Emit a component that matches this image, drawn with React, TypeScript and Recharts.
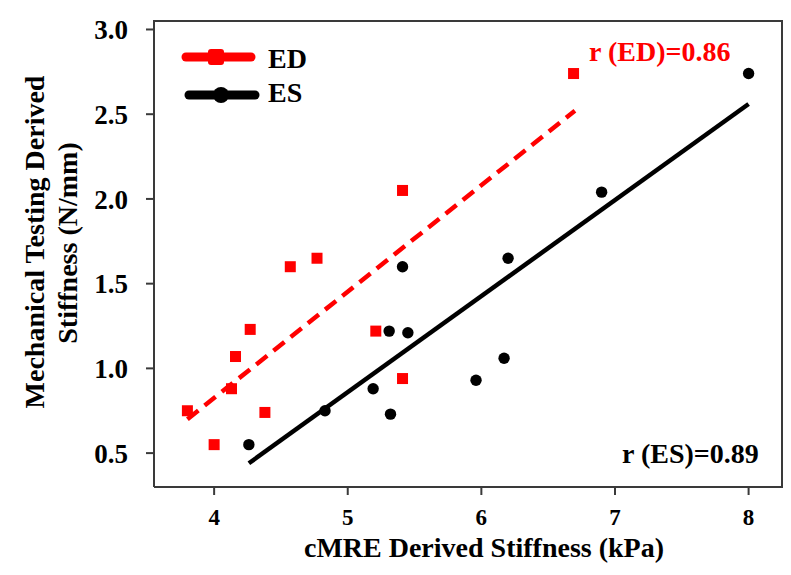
import React from "react";
import { ScatterChart, Scatter, XAxis, YAxis } from "recharts";

// ED group (red squares)
const edCmre = [3.8, 4.0, 4.13, 4.16, 4.27, 4.38, 4.57, 4.77, 5.21, 5.41, 5.41, 6.69];
const edMech = [0.75, 0.55, 0.88, 1.07, 1.23, 0.74, 1.6, 1.65, 1.22, 0.94, 2.05, 2.74];
// ES group (black circles)
const esCmre = [4.26, 4.83, 5.19, 5.32, 5.31, 5.45, 5.41, 5.96, 6.17, 6.2, 6.9, 8.0];
const esMech = [0.55, 0.75, 0.88, 0.73, 1.22, 1.21, 1.6, 0.93, 1.06, 1.65, 2.04, 2.74];
// fitted lines, end points
const edFitX = [3.8, 6.7];
const edFitY = [0.7, 2.52];
const esFitX = [4.26, 8.0];
const esFitY = [0.44, 2.56];

const xTicks = [4, 5, 6, 7, 8];
const yTicks = [0.5, 1.0, 1.5, 2.0, 2.5, 3.0];
const xDomain = [3.55, 8.25];
const yDomain = [0.3, 3.05];

const FONT = '"Liberation Serif", "Times New Roman", serif';
const RED = "#ff0000";
const AXIS = "#3a3a3a";

const toPoints = (xs: number[], ys: number[]) => xs.map((x, i) => ({ x, y: ys[i] }));

const Square = (props: any) => (
  <rect x={props.cx - 5.5} y={props.cy - 5.5} width={11} height={11} fill={RED} />
);
const Dot = (props: any) => <circle cx={props.cx} cy={props.cy} r={5.7} fill="#000" />;
const Hidden = () => <g />;

export default function App() {
  const tickBase = { fontWeight: 700, fill: "#000", fontFamily: FONT };
  const titleProps = { fontFamily: FONT, fontWeight: 700, fontSize: 28, fill: "#000" };
  return (
    <div style={{ position: "absolute", left: 0, top: 0, width: 791, height: 575 }}>
      <ScatterChart width={791} height={575} margin={{ top: 21, right: 9, bottom: 0, left: 0 }}>
        <XAxis
          type="number"
          dataKey="x"
          domain={xDomain}
          ticks={xTicks}
          allowDataOverflow
          height={88}
          tickSize={8}
          tickMargin={14}
          stroke={AXIS}
          strokeWidth={2}
          tick={{ ...tickBase, fontSize: 23 }}
        />
        <YAxis
          type="number"
          dataKey="y"
          domain={yDomain}
          ticks={yTicks}
          allowDataOverflow
          width={154}
          tickSize={8}
          tickMargin={18}
          stroke={AXIS}
          strokeWidth={2}
          tickFormatter={(v: number) => v.toFixed(1)}
          tick={{ ...tickBase, fontSize: 27 }}
        />

        <Scatter
          data={toPoints(edFitX, edFitY)}
          shape={Hidden}
          line={{ stroke: RED, strokeWidth: 4.5, strokeDasharray: "14 8" }}
          isAnimationActive={false}
        />
        <Scatter
          data={toPoints(esFitX, esFitY)}
          shape={Hidden}
          line={{ stroke: "#000", strokeWidth: 4.5 }}
          isAnimationActive={false}
        />
        <Scatter data={toPoints(edCmre, edMech)} shape={Square} fill={RED} isAnimationActive={false} />
        <Scatter data={toPoints(esCmre, esMech)} shape={Dot} fill="#000" isAnimationActive={false} />

        {/* legend */}
        <g>
          <line x1={186} y1={57} x2={251} y2={57} stroke={RED} strokeWidth={9} strokeLinecap="round" />
          <rect x={208} y={49} width={16} height={16} rx={3} fill={RED} />
          <text x={268} y={68} {...titleProps}>ED</text>
          <line x1={189} y1={95} x2={255} y2={95} stroke="#000" strokeWidth={9} strokeLinecap="round" />
          <circle cx={221} cy={95} r={8} fill="#000" />
          <text x={268} y={102} {...titleProps}>ES</text>
        </g>

        {/* annotations */}
        <text x={589} y={61} {...titleProps} fill={RED}>r (ED)=0.86</text>
        <text x={622} y={463} {...titleProps}>r (ES)=0.89</text>

        {/* axis titles */}
        <text x={484} y={557} textAnchor="middle" {...titleProps}>
          cMRE Derived Stiffness (kPa)
        </text>
        <text x={44} y={242} transform="rotate(-90 44 242)" textAnchor="middle" {...titleProps}>
          Mechanical Testing Derived
        </text>
        <text x={77} y={243} transform="rotate(-90 77 243)" textAnchor="middle" {...titleProps}>
          Stiffness (N/mm)
        </text>
      </ScatterChart>
      {/* plot frame, top and right sides */}
      <div
        style={{
          position: "absolute",
          left: 153,
          top: 20,
          width: 628,
          height: 466,
          borderTop: `2px solid ${AXIS}`,
          borderRight: `2px solid ${AXIS}`,
          pointerEvents: "none",
        }}
      />
    </div>
  );
}
